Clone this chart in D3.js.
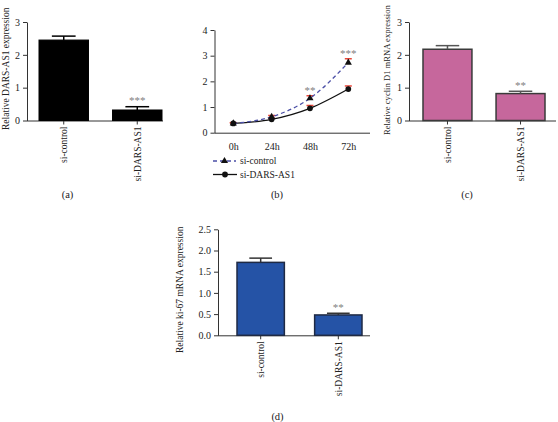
<!DOCTYPE html>
<html>
<head>
<meta charset="utf-8">
<script src="https://cdn.jsdelivr.net/npm/d3@7"></script>
<style>
  html, body { margin: 0; padding: 0; background: #fff; }
  svg { display: block; }
  svg text { font-family: "Liberation Serif", "DejaVu Serif", serif; fill: #222; }
</style>
</head>
<body>
<svg id="chart" width="558" height="422"></svg>
<script>
// ---------- data ----------
const barCategories = ["si-control", "si-DARS-AS1"];
const darsValues = [2.45, 0.32];
const darsErrors = [0.12, 0.10];
const darsSig = ["", "***"];

const cyclinValues = [2.17, 0.82];
const cyclinErrors = [0.11, 0.07];
const cyclinSig = ["", "**"];

const ki67Values = [1.72, 0.48];
const ki67Errors = [0.10, 0.04];
const ki67Sig = ["", "**"];

const timeCategories = ["0h", "24h", "48h", "72h"];
const odControl = [0.36, 0.62, 1.34, 2.73];
const odControlErr = [0.03, 0.05, 0.10, 0.15];
const odDars = [0.36, 0.52, 0.95, 1.70];
const odDarsErr = [0.03, 0.04, 0.11, 0.12];
const odSig = ["", "", "**", "***"];
const seriesNames = ["si-control", "si-DARS-AS1"];

const yTicksA = [0, 1, 2, 3];
const yTicksC = [0, 1, 2, 3];
const yTicksD = [0, 0.5, 1.0, 1.5, 2.0, 2.5];
const yTicksB = [0, 1, 2, 3, 4];

const svg = d3.select("#chart");
const axisColor = "#333";
const FONT = "Liberation Serif";
const STAR_COLOR = "#808080";

function styleAxis(g) {
  g.attr("font-family", FONT);
  g.selectAll("path, line").attr("stroke", axisColor).attr("stroke-width", 1);
  g.selectAll("text").attr("font-family", FONT).attr("fill", "#222");
}

function barPanel(o) {
  const g = svg.append("g");
  const y = d3.scaleLinear().domain(o.yDomain).range([o.y0, o.y1]);
  const x = d3.scaleBand().domain(barCategories)
    .range([o.barL, o.barR]).paddingInner(o.padInner).paddingOuter(0);

  // y axis
  const ya = g.append("g").attr("transform", `translate(${o.axisX},0)`)
    .call(d3.axisLeft(y).tickValues(o.ticks).tickFormat(o.fmt).tickSize(4).tickSizeOuter(0).tickPadding(3));
  ya.selectAll("text").attr("font-size", 10);
  styleAxis(ya);

  // x axis
  const xa = g.append("g").attr("transform", `translate(0,${o.y0})`)
    .call(d3.axisBottom(x).tickSize(4).tickSizeOuter(0).tickPadding(3));
  xa.select(".domain").remove();
  xa.append("line").attr("x1", o.axisX).attr("x2", o.axisEnd)
    .attr("y1", 0.5).attr("y2", 0.5);
  xa.selectAll(".tick text")
    .attr("font-size", 9.5)
    .attr("transform", "rotate(-90)")
    .attr("text-anchor", "end")
    .attr("x", -6).attr("y", 0).attr("dy", "0.35em");
  styleAxis(xa);

  // bars
  g.selectAll("rect.bar").data(o.values).join("rect")
    .attr("class", "bar")
    .attr("x", (d, i) => x(barCategories[i]))
    .attr("width", x.bandwidth())
    .attr("y", d => y(d))
    .attr("height", d => y(0) - y(d))
    .attr("fill", o.fill)
    .attr("stroke", o.stroke)
    .attr("stroke-width", o.strokeW);

  // error bars
  const capW = x.bandwidth() * 0.48;
  o.values.forEach((v, i) => {
    const cx = x(barCategories[i]) + x.bandwidth() / 2;
    const top = y(v + o.errors[i]);
    g.append("line").attr("x1", cx).attr("x2", cx).attr("y1", y(v)).attr("y2", top)
      .attr("stroke", o.errColor).attr("stroke-width", 1.5);
    g.append("line").attr("x1", cx - capW / 2).attr("x2", cx + capW / 2).attr("y1", top).attr("y2", top)
      .attr("stroke", o.errColor).attr("stroke-width", 1.5);
    if (o.sig[i]) {
      g.append("text").attr("x", cx).attr("y", top - 2.5).attr("text-anchor", "middle")
        .attr("font-size", 11).style("fill", STAR_COLOR).text(o.sig[i]);
    }
  });

  // y title
  g.append("text")
    .attr("transform", `translate(${o.titleX},${o.titleBottom}) rotate(-90)`)
    .attr("text-anchor", "start").attr("dy", "0.35em")
    .attr("font-size", o.titleSize || 9.5).text(o.title);

  // panel label
  g.append("text").attr("x", o.labelX).attr("y", o.labelY)
    .attr("text-anchor", "middle").attr("font-size", 10.5).text(o.label);
}

// (a)
barPanel({
  yDomain: [0, 3], y0: 120.5, y1: 22, ticks: yTicksA, fmt: d3.format("d"),
  axisX: 27, axisEnd: 163, barL: 39, barR: 162, padInner: 0.327,
  values: darsValues, errors: darsErrors, sig: darsSig,
  fill: "#000", stroke: "#000", strokeW: 1, errColor: "#000",
  title: "Relative DARS-AS1 expression", titleX: 6, titleBottom: 130,
  label: "(a)", labelX: 67.5, labelY: 198
});

// (c)
barPanel({
  yDomain: [0, 3], y0: 120.5, y1: 22, ticks: yTicksC, fmt: d3.format("d"),
  axisX: 409, axisEnd: 556, barL: 423, barR: 545, padInner: 0.33,
  values: cyclinValues, errors: cyclinErrors, sig: cyclinSig,
  fill: "#c6679c", stroke: "#3a3a3a", strokeW: 1.5, errColor: "#555",
  title: "Relative cyclin D1 mRNA expression", titleX: 387, titleBottom: 135, titleSize: 8.6,
  label: "(c)", labelX: 467, labelY: 198
});

// (d)
barPanel({
  yDomain: [0, 2.5], y0: 335.3, y1: 229.3, ticks: yTicksD, fmt: d3.format(".1f"),
  axisX: 218, axisEnd: 370, barL: 237, barR: 362, padInner: 0.39,
  values: ki67Values, errors: ki67Errors, sig: ki67Sig,
  fill: "#2553a6", stroke: "#1f2a44", strokeW: 1.5, errColor: "#333",
  title: "Relative ki-67 mRNA expression", titleX: 180, titleBottom: 353,
  label: "(d)", labelX: 277.5, labelY: 420
});

// (b) line chart
(function () {
  const g = svg.append("g");
  const axisX = 214.5, y0 = 132.7;
  const y = d3.scaleLinear().domain([0, 4]).range([y0, 30]);
  const x = d3.scalePoint().domain(timeCategories).range([233.3, 348.3]);

  const ya = g.append("g").attr("transform", `translate(${axisX},0)`)
    .call(d3.axisLeft(y).tickValues(yTicksB).tickFormat(d3.format("d")).tickSize(4).tickSizeOuter(0).tickPadding(3));
  ya.selectAll("text").attr("font-size", 10);
  styleAxis(ya);

  const xa = g.append("g").attr("transform", `translate(0,${y0})`)
    .call(d3.axisBottom(x).tickSize(0).tickSizeOuter(0).tickPadding(10));
  xa.select(".domain").remove();
  xa.append("line").attr("x1", axisX).attr("x2", 370).attr("y1", 0.5).attr("y2", 0.5);
  xa.selectAll(".tick text").attr("font-size", 10);
  styleAxis(xa);

  const line = d3.line().x((d, i) => x(timeCategories[i])).y(d => y(d)).curve(d3.curveMonotoneX);

  // error bars (red caps)
  function errs(vals, es) {
    vals.forEach((v, i) => {
      const cx = x(timeCategories[i]);
      const top = y(v + es[i]);
      g.append("line").attr("x1", cx).attr("x2", cx).attr("y1", y(v)).attr("y2", top)
        .attr("stroke", "#333").attr("stroke-width", 1);
      g.append("line").attr("x1", cx - 3.5).attr("x2", cx + 3.5).attr("y1", top).attr("y2", top)
        .attr("stroke", "#e8473a").attr("stroke-width", 1.5);
    });
  }
  errs(odControl, odControlErr);
  errs(odDars, odDarsErr);

  g.append("path").datum(odDars).attr("d", line)
    .attr("fill", "none").attr("stroke", "#111").attr("stroke-width", 1.3);
  g.append("path").datum(odControl).attr("d", line)
    .attr("fill", "none").attr("stroke", "#4b4fa6").attr("stroke-width", 1.3)
    .attr("stroke-dasharray", "4,3");

  const tri = d3.symbol().type(d3.symbolTriangle).size(22);
  const circ = d3.symbol().type(d3.symbolCircle).size(26);

  g.selectAll("path.pt").data(odDars).join("path")
    .attr("class", "pt")
    .attr("transform", (d, i) => `translate(${x(timeCategories[i])},${y(d)})`)
    .attr("d", circ).attr("fill", "#111");
  g.selectAll("path.tri").data(odControl).join("path")
    .attr("class", "tri")
    .attr("transform", (d, i) => `translate(${x(timeCategories[i])},${y(d)})`)
    .attr("d", tri).attr("fill", "#111");

  odSig.forEach((s, i) => {
    if (!s) return;
    const top = y(odControl[i] + odControlErr[i]);
    g.append("text").attr("x", x(timeCategories[i])).attr("y", top - 2)
      .attr("text-anchor", "middle").attr("font-size", 11).style("fill", STAR_COLOR).text(s);
  });

  // legend
  const legY = [161, 174.5];
  g.append("line").attr("x1", 213).attr("x2", 236).attr("y1", legY[0]).attr("y2", legY[0])
    .attr("stroke", "#4b4fa6").attr("stroke-width", 1.3).attr("stroke-dasharray", "4,3");
  g.append("path").attr("transform", `translate(224.5,${legY[0]})`).attr("d", tri).attr("fill", "#111");
  g.append("line").attr("x1", 213).attr("x2", 237).attr("y1", legY[1]).attr("y2", legY[1])
    .attr("stroke", "#111").attr("stroke-width", 1.3);
  g.append("path").attr("transform", `translate(225,${legY[1]})`).attr("d", circ).attr("fill", "#111");
  seriesNames.forEach((n, i) => {
    g.append("text").attr("x", 240).attr("y", legY[i]).attr("dy", "0.35em")
      .attr("font-size", 9.5).text(n);
  });

  g.append("text").attr("x", 277).attr("y", 198).attr("text-anchor", "middle")
    .attr("font-size", 10.5).text("(b)");
})();
</script>
</body>
</html>
